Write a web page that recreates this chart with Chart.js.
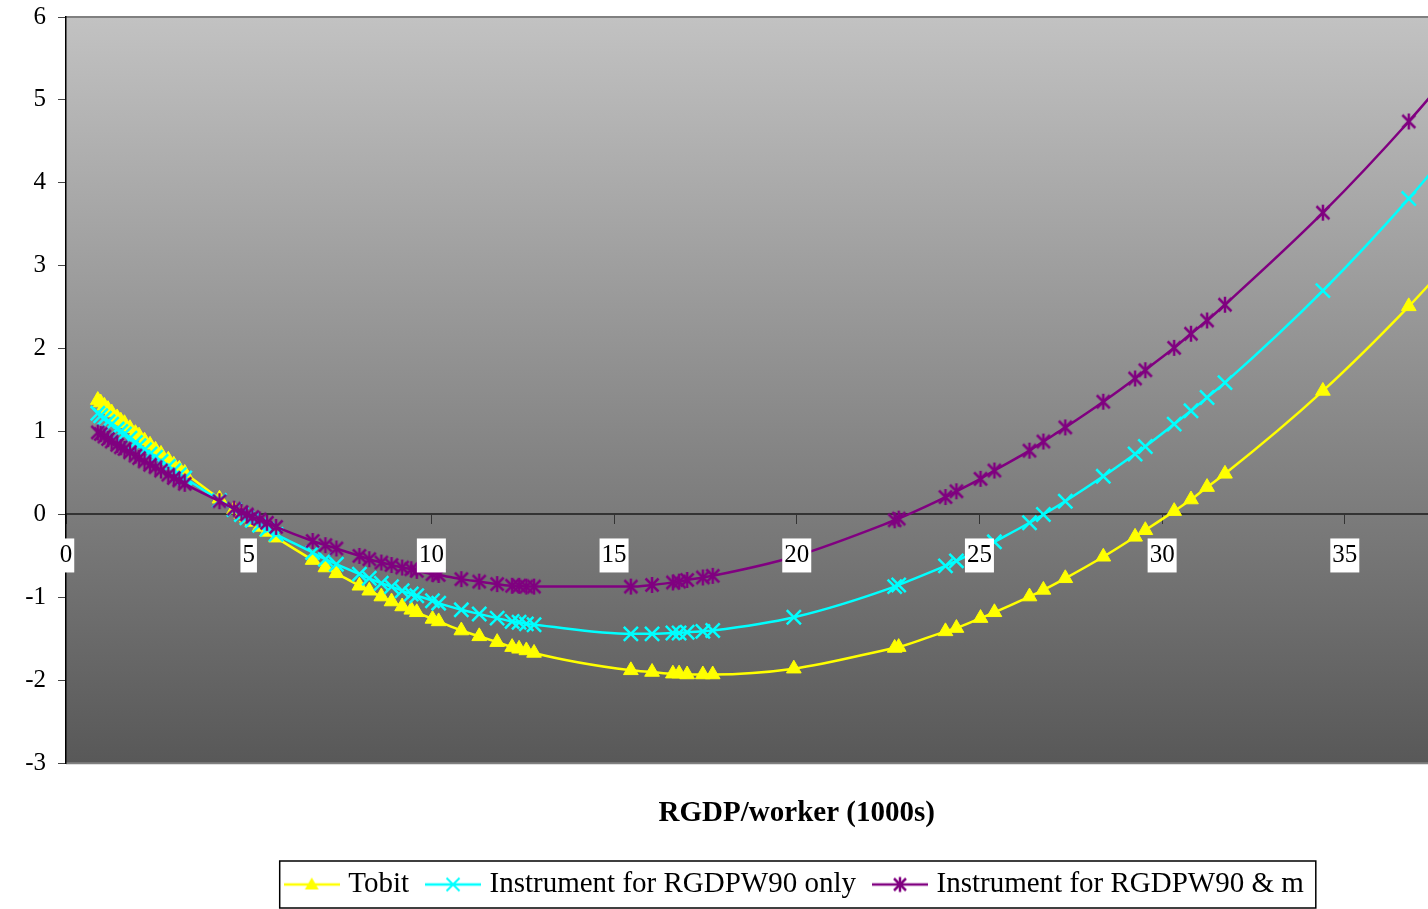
<!DOCTYPE html>
<html><head><meta charset="utf-8">
<script src="https://cdn.jsdelivr.net/npm/chart.js@4.4.0/dist/chart.umd.min.js"></script>
<style>
html,body{margin:0;padding:0;background:#fff;overflow:hidden;width:1428px;height:909px}
#wrap{position:absolute;left:0;top:0;width:1540px;height:909px}
</style>
</head><body><div id="wrap"><canvas id="c" width="1540" height="909"></canvas></div>
<script>
// ---- data ----
const xValues = [0.87,0.95,1.05,1.15,1.25,1.4,1.5,1.6,1.75,1.9,2.0,2.15,2.3,2.45,2.6,2.8,2.95,3.1,3.25,
  4.2,4.6,4.8,4.95,5.1,5.3,5.5,5.75,
  6.75,7.1,7.4,8.03,8.3,8.63,8.91,9.2,9.45,9.6,10.03,10.2,10.82,11.31,11.8,12.21,12.4,12.6,12.81,
  15.46,16.04,16.61,16.78,17.0,17.43,17.7,
  19.92,
  22.68,22.79,24.07,24.37,25.03,25.41,26.37,26.75,27.35,28.39,29.26,29.54,30.33,30.79,31.23,31.72,
  34.4,36.75,39.0];
const tobit = [1.38,1.35,1.31,1.27,1.23,1.17,1.13,1.10,1.04,0.98,0.95,0.89,0.84,0.78,0.73,0.66,0.60,0.55,0.50,
  0.19,0.06,0.00,-0.04,-0.09,-0.15,-0.21,-0.28,
  -0.55,-0.64,-0.71,-0.86,-0.92,-0.99,-1.05,-1.11,-1.15,-1.18,-1.26,-1.29,-1.40,-1.47,-1.54,-1.60,-1.62,-1.64,-1.67,
  -1.88,-1.90,-1.92,-1.92,-1.93,-1.93,-1.93,
  -1.86,
  -1.61,-1.60,-1.41,-1.37,-1.25,-1.18,-0.99,-0.91,-0.77,-0.51,-0.27,-0.19,0.04,0.18,0.33,0.49,
  1.49,2.51,3.60];
const instrOnly = [1.22,1.19,1.16,1.12,1.09,1.03,1.00,0.97,0.92,0.87,0.83,0.78,0.73,0.69,0.64,0.58,0.53,0.48,0.44,
  0.17,0.06,0.00,-0.04,-0.07,-0.13,-0.18,-0.24,
  -0.46,-0.54,-0.60,-0.72,-0.77,-0.83,-0.87,-0.92,-0.96,-0.98,-1.04,-1.07,-1.15,-1.20,-1.25,-1.29,-1.30,-1.32,-1.33,
  -1.44,-1.44,-1.43,-1.43,-1.42,-1.41,-1.40,
  -1.24,
  -0.87,-0.85,-0.62,-0.56,-0.42,-0.33,-0.10,0.00,0.16,0.46,0.73,0.82,1.09,1.25,1.41,1.59,
  2.70,3.81,5.00];
const instrBoth = [0.99,0.97,0.94,0.91,0.88,0.84,0.81,0.79,0.75,0.71,0.68,0.64,0.60,0.57,0.53,0.48,0.44,0.41,0.37,
  0.16,0.07,0.03,0.00,-0.03,-0.06,-0.10,-0.15,
  -0.32,-0.37,-0.41,-0.50,-0.54,-0.58,-0.61,-0.64,-0.66,-0.68,-0.72,-0.73,-0.78,-0.81,-0.84,-0.86,-0.86,-0.87,-0.87,
  -0.87,-0.85,-0.82,-0.81,-0.79,-0.76,-0.74,
  -0.51,
  -0.07,-0.05,0.21,0.28,0.43,0.53,0.77,0.88,1.05,1.36,1.64,1.74,2.01,2.18,2.34,2.53,
  3.64,4.74,5.91];
const seriesLabels = ['Tobit','Instrument for RGDPW90 only','Instrument for RGDPW90 & m'];
const xTicks = [0,5,10,15,20,25,30,35,40];
const yTicks = [-3,-2,-1,0,1,2,3,4,5,6];
const xTitle = 'RGDP/worker (1000s)';

const YELLOW = '#ffff00', CYAN = '#00ffff', PURPLE = '#800080';
const FONT = "'Liberation Serif', 'Times New Roman', serif";

function mk(w,h){const c=document.createElement('canvas');c.width=w;c.height=h;return c;}
function drawTri(ctx,cx,cy,r,color){
  ctx.fillStyle=color;ctx.beginPath();
  ctx.moveTo(cx,cy-r);ctx.lineTo(cx+r*0.866,cy+r*0.5);ctx.lineTo(cx-r*0.866,cy+r*0.5);ctx.closePath();ctx.fill();
}
function drawX(ctx,cx,cy,d,color,lw){
  ctx.strokeStyle=color;ctx.lineWidth=lw;ctx.beginPath();
  ctx.moveTo(cx-d,cy-d);ctx.lineTo(cx+d,cy+d);ctx.moveTo(cx+d,cy-d);ctx.lineTo(cx-d,cy+d);ctx.stroke();
}
function drawAst(ctx,cx,cy,d,v,color,lw){
  drawX(ctx,cx,cy,d,color,lw);
  ctx.beginPath();ctx.moveTo(cx,cy-v);ctx.lineTo(cx,cy+v);ctx.stroke();
}
const astMarker = (()=>{const c=mk(18,18);const g=c.getContext('2d');drawAst(g,9,9,6.5,8,PURPLE,2.5);return c;})();
function legendIcon(kind,color){
  const c=mk(56,24);const g=c.getContext('2d');
  g.strokeStyle=color;g.lineWidth=2.5;g.beginPath();g.moveTo(0,12);g.lineTo(56,12);g.stroke();
  if(kind==='tri') drawTri(g,28,13,8,color);
  else if(kind==='x') drawX(g,28,12,6.5,color,2);
  else drawAst(g,28,12,6,7.5,color,2.5);
  return c;
}
const legendIcons=[legendIcon('tri',YELLOW),legendIcon('x',CYAN),legendIcon('ast',PURPLE)];

const pts = ys => xValues.map((x,i)=>({x:x,y:ys[i]}));

const bgPlugin = {
  id:'bg',
  beforeDraw(chart){
    const {ctx,chartArea:a}=chart;
    ctx.save();
    const g=ctx.createLinearGradient(0,a.top,0,a.bottom);
    g.addColorStop(0,'#c2c2c2');g.addColorStop(1,'#585858');
    ctx.fillStyle=g;ctx.fillRect(a.left,a.top,a.right-a.left,a.bottom-a.top);
    ctx.strokeStyle='#808080';ctx.lineWidth=2;
    ctx.beginPath();ctx.moveTo(a.left,a.top);ctx.lineTo(a.right,a.top);ctx.lineTo(a.right,a.bottom);ctx.lineTo(a.left,a.bottom);ctx.stroke();
    ctx.restore();
  }
};
const legendBorder = {
  id:'legendBorder',
  afterDraw(chart){
    const hb=chart.legend&&chart.legend.legendHitBoxes; if(!hb||!hb.length) return;
    let l=Infinity,r=-Infinity;
    hb.forEach(b=>{l=Math.min(l,b.left);r=Math.max(r,b.left+b.width);});
    const cy=hb[0].top+hb[0].height/2;
    const ctx=chart.ctx;ctx.save();ctx.strokeStyle='#000';ctx.lineWidth=1.5;
    ctx.strokeRect(l-10,cy-23.5,(r+12)-(l-10),47);ctx.restore();
  }
};

new Chart(document.getElementById('c'),{
  type:'line',
  data:{datasets:[
    {label:seriesLabels[0],data:pts(tobit),borderColor:YELLOW,backgroundColor:YELLOW,borderWidth:2.5,
     pointStyle:'triangle',pointRadius:8.5,pointBackgroundColor:YELLOW,pointBorderColor:YELLOW,pointBorderWidth:1,order:3},
    {label:seriesLabels[1],data:pts(instrOnly),borderColor:CYAN,backgroundColor:CYAN,borderWidth:2.5,
     pointStyle:'crossRot',pointRadius:10,pointBorderColor:CYAN,pointBorderWidth:2.5,order:2},
    {label:seriesLabels[2],data:pts(instrBoth),borderColor:PURPLE,backgroundColor:PURPLE,borderWidth:2.5,
     pointStyle:astMarker,pointRadius:7,order:1}
  ]},
  options:{
    responsive:false,animation:false,devicePixelRatio:1,
    cubicInterpolationMode:'monotone',
    layout:{padding:{top:17,right:10,bottom:0,left:0}},
    scales:{
      x:{type:'linear',min:0,max:40,position:{y:0},
        afterFit(s){s.height=0;s.paddingLeft=0;s.paddingRight=0;},
        afterBuildTicks(s){s.ticks=xTicks.map(v=>({value:v}));},
        grid:{drawOnChartArea:false,drawTicks:true,tickLength:9,color:'#333',lineWidth:1},
        border:{color:'#333',width:2},
        ticks:{z:1,color:'#000',font:{family:FONT,size:25},padding:17,maxRotation:0,autoSkip:false,
          showLabelBackdrop:true,backdropColor:'#ffffff',backdropPadding:{top:2,bottom:2,left:2,right:2}}
      },
      y:{type:'linear',min:-3,max:6,
        afterFit(s){s.width=66;s.paddingTop=0;s.paddingBottom=0;},
        afterBuildTicks(s){s.ticks=yTicks.map(v=>({value:v}));},
        grid:{drawOnChartArea:false,drawTicks:true,tickLength:8,color:'#444'},
        border:{color:'#000',width:1.5},
        ticks:{color:'#000',font:{family:FONT,size:25},padding:12}
      }
    },
    plugins:{
      tooltip:{enabled:false},
      title:{display:true,text:xTitle,position:'bottom',weight:100,fullSize:false,color:'#000',
        font:{family:FONT,size:29,weight:'bold'},padding:{top:33,bottom:17}},
      legend:{position:'bottom',fullSize:false,
        labels:{usePointStyle:true,pointStyleWidth:44,padding:22,color:'#000',font:{family:FONT,size:29},
          generateLabels:(chart)=>chart.data.datasets.map((ds,i)=>({text:ds.label,pointStyle:legendIcons[i],
            fillStyle:ds.borderColor,strokeStyle:ds.borderColor,lineWidth:0,hidden:false,datasetIndex:i,fontColor:'#000'}))}
      }
    }
  },
  plugins:[bgPlugin,legendBorder]
});
</script>
</body></html>
